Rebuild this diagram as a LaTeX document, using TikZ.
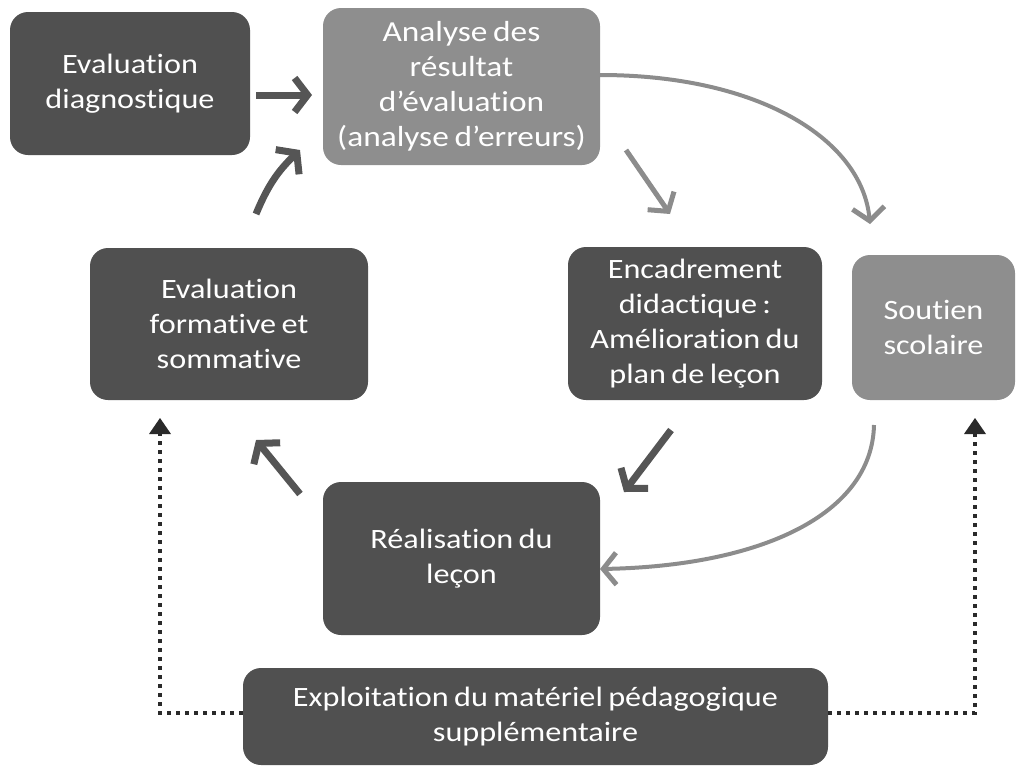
\documentclass[tikz,border=0pt]{standalone}
\usepackage{fontspec}
\setmainfont{Carlito}[Ligatures=NoCommon, FakeStretch=1.15, WordSpace=0.75]
\usetikzlibrary{arrows.meta}
\definecolor{boxdark}{HTML}{505050}
\definecolor{boxlight}{HTML}{8E8E8E}
\definecolor{arrdark}{HTML}{555555}
\definecolor{arrlight}{HTML}{8C8C8C}
\definecolor{dotcol}{HTML}{2A2A2A}
\tikzset{
  box/.style={rounded corners=18pt, inner sep=0pt, align=center, text=white,
    font=\fontsize{28}{35}\selectfont},
  darkbox/.style={box, fill=boxdark},
  lightbox/.style={box, fill=boxlight},
  darkarr/.style={draw=arrdark, line width=7pt,
    -{Straight Barb[length=13pt, width=34pt, line width=7pt]}},
  lightarr/.style={draw=arrlight, line width=5pt,
    -{Straight Barb[length=13pt, width=32pt, line width=5pt]}},
  dotarr/.style={draw=dotcol, line width=4pt, dash pattern=on 4pt off 5pt,
    -{Triangle[length=16pt, width=22pt, line width=0pt]}}
}
\begin{document}
\begin{tikzpicture}[x=1pt, y=-1pt]
\useasboundingbox (0,0) rectangle (1018,772);

% process boxes
\node[darkbox, minimum width=240pt, minimum height=143pt] (diag) at (130,83.5)
  {Evaluation\\diagnostique};
\node[lightbox, minimum width=277pt, minimum height=157pt,
      font=\fontsize{29}{35}\selectfont] (ana) at (461.5,86.5)
  {Analyse des\\résultat\\d’évaluation\\(analyse d’erreurs)};
\node[darkbox, minimum width=278pt, minimum height=152pt] (form) at (229,324)
  {Evaluation\\formative et\\sommative};
\node[darkbox, minimum width=254pt, minimum height=153pt] (enc) at (695,323.5)
  {Encadrement\\didactique :\\Amélioration du\\plan de leçon};
\node[lightbox, minimum width=163pt, minimum height=145pt] (sout) at (933.5,327.5)
  {Soutien\\scolaire};
\node[darkbox, minimum width=277pt, minimum height=153pt] (real) at (461.5,558.5)
  {Réalisation du\\leçon};
\node[darkbox, minimum width=585pt, minimum height=97pt] (expl) at (535.5,716.5)
  {Exploitation du matériel pédagogique\\supplémentaire};

% arrow end points
\coordinate (d1) at (256,95);   \coordinate (d2) at (312,95);
\coordinate (f1) at (256,214);  \coordinate (f2) at (300,150);
\coordinate (e1) at (626,150);  \coordinate (e2) at (670,214);
\coordinate (s1) at (600,75);   \coordinate (s2) at (870,224);
\coordinate (c1) at (671,430);  \coordinate (c2) at (624,492);
\coordinate (t1) at (874,425);  \coordinate (t2) at (600,569);
\coordinate (r1) at (300,494);  \coordinate (r2) at (256,440);
\coordinate (lcorner) at (160,713); \coordinate (ltip) at (160,418);
\coordinate (rcorner) at (975,713); \coordinate (rtip) at (975,418);

% cycle arrows
\draw[darkarr] (d1) -- (d2);
\draw[darkarr] (f1) to[bend left=12] (f2);
\draw[lightarr] (e1) -- (e2);
\draw[lightarr, line width=4pt] (s1) .. controls (760,75) and (862,140) .. (s2);
\draw[darkarr] (c1) -- (c2);
\draw[lightarr, line width=4pt] (t1) .. controls (872,515) and (760,566) .. (t2);
\draw[darkarr] (r1) -- (r2);

% supplementary material feeds both sides
\draw[dotarr] (expl.west |- lcorner) -- (lcorner) -- (ltip);
\draw[dotarr] (expl.east |- rcorner) -- (rcorner) -- (rtip);
\end{tikzpicture}
\end{document}
